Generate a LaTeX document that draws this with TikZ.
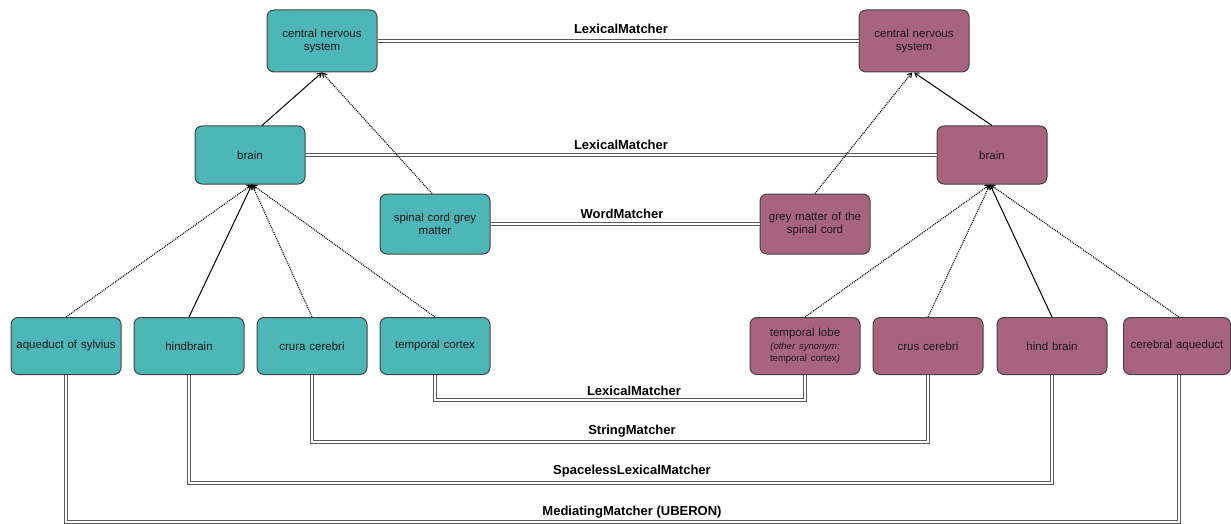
\documentclass[tikz,border=0pt]{standalone}
\usepackage{fontspec}
\setmainfont{Liberation Sans}
\usetikzlibrary{arrows.meta}
\definecolor{tealbox}{HTML}{4DB6B6}
\definecolor{plumbox}{HTML}{A8637F}
\definecolor{edgegray}{HTML}{444444}
\tikzset{
  box/.style={draw=edgegray, line width=1pt, rounded corners=7pt, minimum width=110pt,
    text width=104pt, align=center, inner sep=1pt, font=\fontsize{11.5}{13.5}\selectfont, text=black!90},
  tbox/.style={box, fill=tealbox},
  pbox/.style={box, fill=plumbox},
  dbl/.style={draw=black!65, line width=1pt, double=white, double distance=2pt, line join=miter},
  isa/.style={draw=black, line width=1pt, -{Straight Barb[length=4pt,width=5pt]}},
  rel/.style={draw=black, line width=1.1pt, dash pattern=on 1pt off 1pt, -{Straight Barb[length=4pt,width=5pt]}},
  lab/.style={font=\bfseries\fontsize{13}{15}\selectfont, inner sep=0pt}
}
\begin{document}
\begin{tikzpicture}[x=1pt,y=-1pt]
\useasboundingbox (0,0) rectangle (1231,524);
% top row
\node[tbox, minimum height=62pt] (cnsL) at (322,41) {central nervous\\system};
\node[pbox, minimum height=62pt] (cnsR) at (914,41) {central nervous\\system};
\node[tbox, minimum height=58pt] (brL) at (250,155) {brain};
\node[pbox, minimum height=58pt] (brR) at (992,155) {brain};
\node[tbox, minimum height=60pt] (scg) at (435,224) {spinal cord grey\\matter};
\node[pbox, minimum height=60pt] (gms) at (815,224) {grey matter of the\\spinal cord};
% bottom row
\node[tbox, minimum height=57pt] (aqs) at (66,346) {aqueduct of sylvius};
\node[tbox, minimum height=57pt] (hbL) at (189,346) {hindbrain};
\node[tbox, minimum height=57pt] (ccL) at (312,346) {crura cerebri};
\node[tbox, minimum height=57pt] (tcx) at (435,346) {temporal cortex};
\node[pbox, minimum height=57pt] (tlb) at (805,346) {temporal lobe\\[-1pt]{\fontsize{9.5}{11}\selectfont\itshape (other synonym:}\\[-1pt]{\fontsize{9.5}{11}\selectfont temporal cortex\textit{)}}};
\node[pbox, minimum height=57pt] (ccR) at (928,346) {crus cerebri};
\node[pbox, minimum height=57pt] (hbR) at (1052,346) {hind brain};
\node[pbox, minimum height=57pt, minimum width=107pt, text width=104pt] (caq) at (1177,346) {cerebral aqueduct};
% levels of the bottom connectors
\coordinate (lv1) at (0,400);
\coordinate (lv2) at (0,442);
\coordinate (lv3) at (0,483);
\coordinate (lv4) at (0,522);
\coordinate (caqfoot) at ([xshift=2pt]caq.south);
% matcher connections
\draw[dbl] (cnsL.east) -- (cnsR.west);
\draw[dbl] (brL.east) -- (brR.west);
\draw[dbl] (scg.east) -- (gms.west);
\draw[dbl] (tcx.south) -- (tcx.south |- lv1) -- (tlb.south |- lv1) -- (tlb.south);
\draw[dbl] (ccL.south) -- (ccL.south |- lv2) -- (ccR.south |- lv2) -- (ccR.south);
\draw[dbl] (hbL.south) -- (hbL.south |- lv3) -- (hbR.south |- lv3) -- (hbR.south);
\draw[dbl] (aqs.south) -- (aqs.south |- lv4) -- (caqfoot |- lv4) -- (caqfoot);
% labels
\node[lab] (l1) at (621,29) {LexicalMatcher};
\node[lab] (l2) at (621,145) {LexicalMatcher};
\node[lab] (l3) at (622,214) {WordMatcher};
\node[lab] (l4) at (634,391) {LexicalMatcher};
\node[lab] (l5) at (632,431.5) {StringMatcher};
\node[lab] (l6) at (632,471) {SpacelessLexicalMatcher};
\node[lab] (l7) at (632,512) {MediatingMatcher (UBERON)};
% hierarchy arrows left
\draw[isa] ([xshift=12pt]brL.north) -- (cnsL.south);
\draw[rel] ([xshift=-3pt]scg.north) -- (cnsL.south);
\draw[rel] (aqs.north) -- ([xshift=2pt]brL.south);
\draw[isa] (hbL.north) -- ([xshift=2pt]brL.south);
\draw[rel] (ccL.north) -- ([xshift=2pt]brL.south);
\draw[rel] (tcx.north) -- ([xshift=2pt]brL.south);
% hierarchy arrows right
\draw[isa] (brR.north) -- (cnsR.south);
\draw[rel] (gms.north) -- ([xshift=-2pt]cnsR.south);
\draw[rel] (tlb.north) -- ([xshift=-2pt]brR.south);
\draw[rel] (ccR.north) -- ([xshift=-2pt]brR.south);
\draw[isa] (hbR.north) -- ([xshift=-2pt]brR.south);
\draw[rel] ([xshift=2pt]caq.north) -- ([xshift=-2pt]brR.south);
\end{tikzpicture}
\end{document}
